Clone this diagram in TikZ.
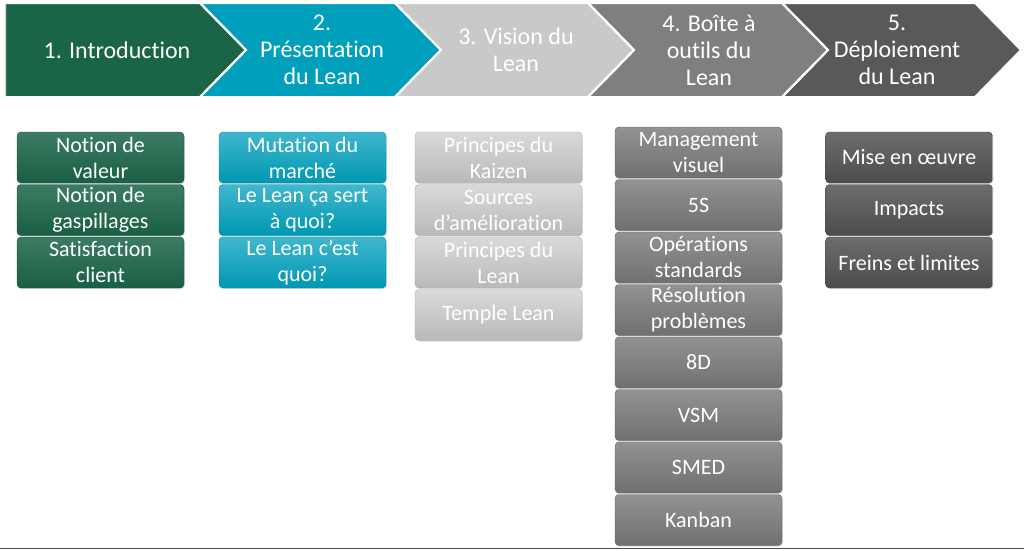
\documentclass[tikz,border=0pt]{standalone}
\usepackage{fontspec}
\setmainfont{Carlito}[Ligatures={NoCommon}]
\usepackage{xcolor}
\definecolor{introGreen}{HTML}{1A6448}
\definecolor{presTeal}{HTML}{009FBC}
\definecolor{visionGrey}{HTML}{C9C9C9}
\definecolor{toolGrey}{HTML}{7F7F7F}
\definecolor{deployGrey}{HTML}{595959}
\usepackage{tikz}
\usetikzlibrary{positioning, shadows}

\begin{document}
\begin{tikzpicture}[
    x=1pt, y=-1pt,
    node distance=1.5pt and 0pt,
    every node/.style={outer sep=0pt, inner sep=1pt},
    stage/.style={draw=white, line width=2pt, line join=miter},
    stageText/.style={text=white, align=center, font=\fontsize{24}{27}\selectfont},
    card/.style={rounded corners=4pt, minimum width=167pt, minimum height=51pt, align=center,
        text=white, font=\fontsize{22}{26}\selectfont, anchor=north,
        drop shadow={opacity=0.25, shadow xshift=0.8pt, shadow yshift=-1.2pt}},
    introCard/.style={card, top color=introGreen!85!white, bottom color=introGreen!95!black, draw=introGreen!80!black},
    presCard/.style={card, top color=presTeal!75!white, bottom color=presTeal!95!black, draw=presTeal!85!black},
    visionCard/.style={card, top color=visionGrey!70!white, bottom color=visionGrey!92!black, draw=visionGrey!85!black},
    toolCard/.style={card, top color=toolGrey!85!white, bottom color=toolGrey!88!black, draw=toolGrey!75!black},
    deployCard/.style={card, top color=deployGrey!88!white, bottom color=deployGrey!85!black, draw=deployGrey!75!black}
]
    \useasboundingbox (0,0) rectangle (1024,550);

    % Header chevrons
    \fill [stage, fill=introGreen]  (5,3) -- (200,3) -- (246,50) -- (200,97) -- (5,97) -- cycle;
    \fill [stage, fill=presTeal]    (200,3) -- (395,3) -- (441,50) -- (395,97) -- (200,97) -- (246,50) -- cycle;
    \fill [stage, fill=visionGrey]  (395,3) -- (588,3) -- (634,50) -- (588,97) -- (395,97) -- (441,50) -- cycle;
    \fill [stage, fill=toolGrey]    (588,3) -- (782,3) -- (828,50) -- (782,97) -- (588,97) -- (634,50) -- cycle;
    \fill [stage, fill=deployGrey]  (782,3) -- (975,3) -- (1021,50) -- (975,97) -- (782,97) -- (828,50) -- cycle;
    \draw [stage] (200,3) -- (246,50) -- (200,97);
    \draw [stage] (395,3) -- (441,50) -- (395,97);
    \draw [stage] (588,3) -- (634,50) -- (588,97);
    \draw [stage] (782,3) -- (828,50) -- (782,97);
    \draw [line width=0.6pt, gray!30] (5,3) -- (5,97);

    \node (intro)  [stageText] at (117,50) {1. Introduction};
    \node (pres)   [stageText] at (322,50) {2.\\Présentation\\du Lean};
    \node (vision) [stageText] at (516,50) {3. Vision du\\Lean};
    \node (tools)  [stageText] at (709,50) {4. Boîte à\\outils du\\Lean};
    \node (deploy) [stageText] at (897,50) {5.\\Déploiement\\du Lean};

    % Column 1
    \node (valeur) [introCard] at (100.5,132) {Notion de\\valeur};
    \node (gaspi)  [introCard, below=of valeur] {Notion de\\gaspillages};
    \node (satis)  [introCard, below=of gaspi] {Satisfaction\\client};

    % Column 2
    \node (mutation) [presCard] at (302.5,132) {Mutation du\\marché};
    \node (sert)     [presCard, below=of mutation] {Le Lean ça sert\\à quoi?};
    \node (quoi)     [presCard, below=of sert] {Le Lean c’est\\quoi?};

    % Column 3
    \node (kaizen)   [visionCard] at (498.5,132) {Principes du\\Kaizen};
    \node (sources)  [visionCard, below=of kaizen] {Sources\\d’amélioration};
    \node (principes)[visionCard, below=of sources] {Principes du\\Lean};
    \node (temple)   [visionCard, below=of principes] {Temple Lean};

    % Column 4
    \node (visuel)   [toolCard] at (698.5,127) {Management\\visuel};
    \node (fiveS)    [toolCard, below=of visuel] {5S};
    \node (standard) [toolCard, below=of fiveS] {Opérations\\standards};
    \node (resol)    [toolCard, below=of standard] {Résolution\\problèmes};
    \node (eightD)   [toolCard, below=of resol] {8D};
    \node (vsm)      [toolCard, below=of eightD] {VSM};
    \node (smed)     [toolCard, below=of vsm] {SMED};
    \node (kanban)   [toolCard, below=of smed] {Kanban};

    % Column 5
    \node (oeuvre)  [deployCard] at (909,132) {Mise en œuvre};
    \node (impacts) [deployCard, below=of oeuvre] {Impacts};
    \node (freins)  [deployCard, below=of impacts] {Freins et limites};

    % Bottom rule
    \draw [line width=1.5pt, black!70] (0,548.5) -- (1024,548.5);
\end{tikzpicture}
\end{document}
